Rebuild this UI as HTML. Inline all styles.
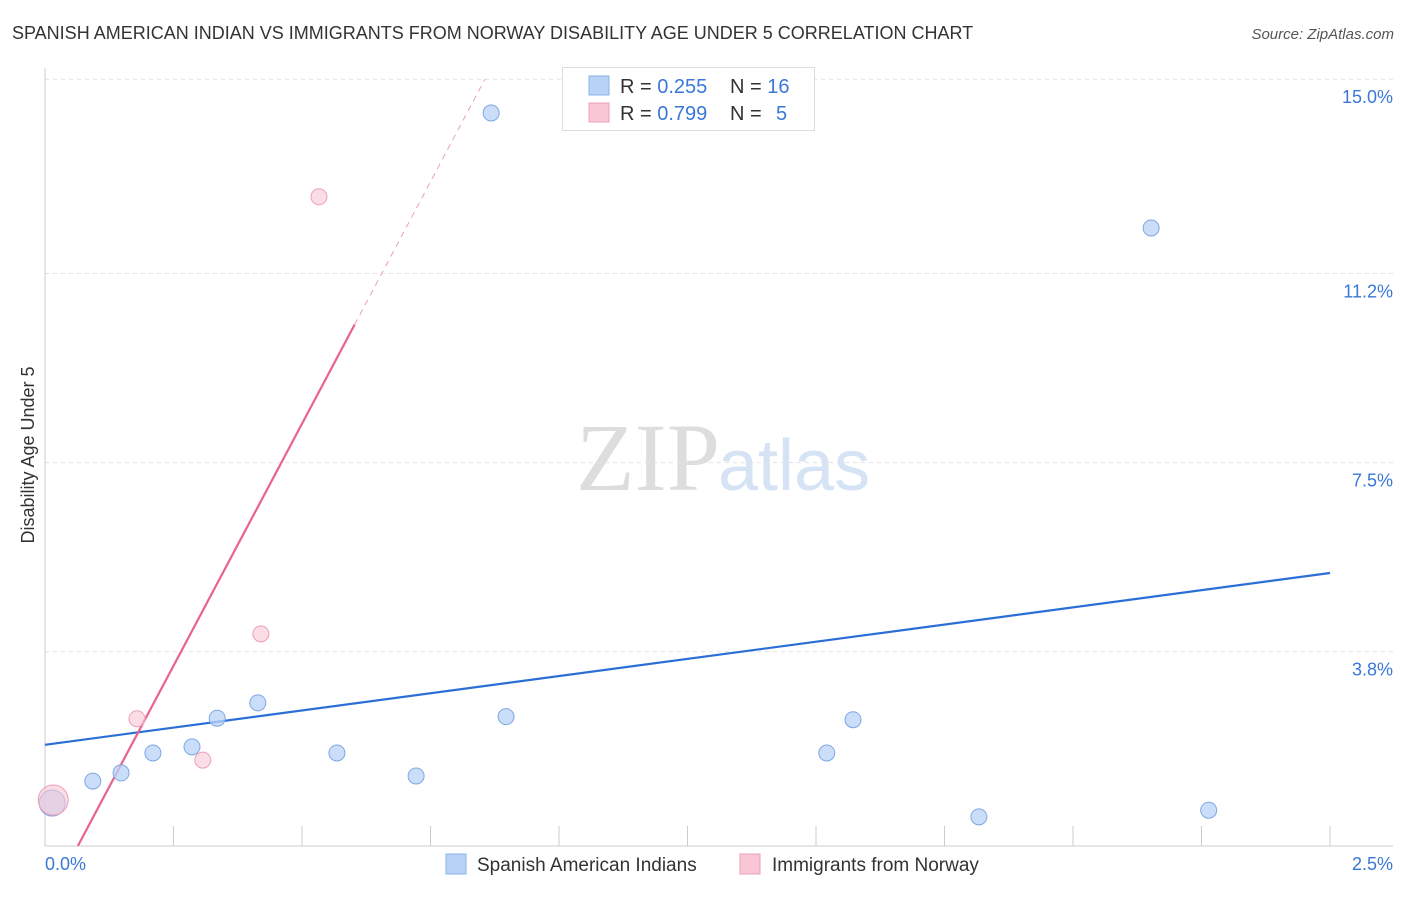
<!DOCTYPE html>
<html><head><meta charset="utf-8"><style>
body{margin:0;background:#fff;font-family:"Liberation Sans",sans-serif}
</style></head><body>
<svg id="c" width="1406" height="892" xmlns="http://www.w3.org/2000/svg">
<text x="12" y="39" font-size="18" fill="#333">SPANISH AMERICAN INDIAN VS IMMIGRANTS FROM NORWAY DISABILITY AGE UNDER 5 CORRELATION CHART</text>
<text x="1394" y="39" font-size="15" fill="#555" font-style="italic" text-anchor="end">Source: ZipAtlas.com</text>
<text x="720" y="490" font-size="96" fill="#ddd" font-family="Liberation Serif" text-anchor="end">ZIP</text>
<text x="718" y="490" font-size="72" fill="#d5e3f5">atlas</text>
<text x="34" y="455" font-size="18" fill="#333" text-anchor="middle" transform="rotate(-90 34 455)">Disability Age Under 5</text>
<g id="grid"></g><g id="lines"></g><g id="pts"></g>
<g>
<rect x="562.5" y="67.5" width="252" height="63" fill="#fff" stroke="#ddd"/>
<rect x="589" y="76" width="20" height="19" fill="#b9d3f7" stroke="#8ab0e8"/>
<rect x="589" y="103" width="20" height="19" fill="#f9c6d5" stroke="#eda0b8"/>
<text x="620" y="93" font-size="20" fill="#333">R = <tspan fill="#3a78d8">0.255</tspan><tspan x="730">N = </tspan><tspan fill="#3a78d8">16</tspan></text>
<text x="620" y="120" font-size="20" fill="#333">R = <tspan fill="#3a78d8">0.799</tspan><tspan x="730">N = </tspan><tspan x="776" fill="#3a78d8">5</tspan></text>
</g>
<g>
<rect x="446" y="854" width="20" height="20" fill="#b9d3f7" stroke="#8ab0e8"/>
<text x="477" y="871" font-size="19" fill="#333">Spanish American Indians</text>
<rect x="740" y="854" width="20" height="20" fill="#f9c6d5" stroke="#eda0b8"/>
<text x="772" y="871" font-size="19" fill="#333">Immigrants from Norway</text>
</g>
<text x="45" y="870" font-size="18" fill="#3a78d8">0.0%</text>
<text x="1393" y="870" font-size="18" fill="#3a78d8" text-anchor="end">2.5%</text>
</svg>
<script>
const yTicks=[15.0,11.2,7.5,3.8];
const yTickLabels=["15.0%","11.2%","7.5%","3.8%"];
const blueX=[0.014,0.093,0.148,0.21,0.286,0.335,0.414,0.568,0.722,0.868,0.897,1.521,1.572,1.817,2.152,2.264];
const blueY=[0.84,1.27,1.43,1.82,1.94,2.5,2.8,1.82,1.37,14.34,2.53,1.82,2.47,0.57,12.09,0.7];
const pinkX=[0.016,0.179,0.307,0.42,0.533];
const pinkY=[0.90,2.49,1.68,4.15,12.7];
const blueFit=[1.98,5.34];
const pinkFit=[18.94,-1.21];
const NS="http://www.w3.org/2000/svg";
const X=v=>45+v*514, Y=v=>846-v*51.12;
function mk(p,t,a){const e=document.createElementNS(NS,t);for(const k in a)e.setAttribute(k,a[k]);document.getElementById(p).appendChild(e);return e;}
yTicks.forEach((t,i)=>{
 const l=mk('grid','line',{x1:45,x2:1393,y1:Y(t),y2:Y(t),stroke:'#e2e2e2','stroke-dasharray':'4 4'});
 
 
 const tx=mk('grid','text',{x:1393,y:Y(t)+24,'font-size':18,fill:'#3a78d8','text-anchor':'end'});
 tx.textContent=yTickLabels[i];
 
 
});
const ax=mk('grid','line',{x1:45,x2:45,y1:68,y2:846,stroke:'#ccc'});


const bx=mk('grid','line',{x1:45,x2:1393,y1:846,y2:846,stroke:'#ccc'});


for(let i=1;i<=10;i++){const t=mk('grid','line',{x1:X(i*0.25),x2:X(i*0.25),y1:826,y2:846,stroke:'#ccc'});
 
 }
const bl=mk('lines','line',{x1:X(0),y1:Y(blueFit[0]),x2:X(2.5),y2:Y(blueFit[1]),stroke:'#2b6fd6','stroke-width':2.2});


const px0=-pinkFit[1]/pinkFit[0], px1=(10.2-pinkFit[1])/pinkFit[0], px2=(15-pinkFit[1])/pinkFit[0];
const pl=mk('lines','line',{x1:X(px0),y1:Y(0),x2:X(px1),y2:Y(10.2),stroke:'#e8638e','stroke-width':2.2});


const pd=mk('lines','line',{x1:X(px1),y1:Y(10.2),x2:X(px2),y2:Y(15.0),stroke:'#e8a0b8','stroke-width':1,'stroke-dasharray':'6 5'});


blueX.forEach((x,i)=>{const c=mk('pts','circle',{cx:X(x),cy:Y(blueY[i]),r:i==0?13:8,fill:'#b9d3f7','fill-opacity':0.75,stroke:'#7da7e3'});
 
 });
pinkX.forEach((x,i)=>{const c=mk('pts','circle',{cx:X(x),cy:Y(pinkY[i]),r:i==0?15:8,fill:'#f9c6d5','fill-opacity':0.6,stroke:'#eda0b8'});
 
 });
</script>
</body></html>
